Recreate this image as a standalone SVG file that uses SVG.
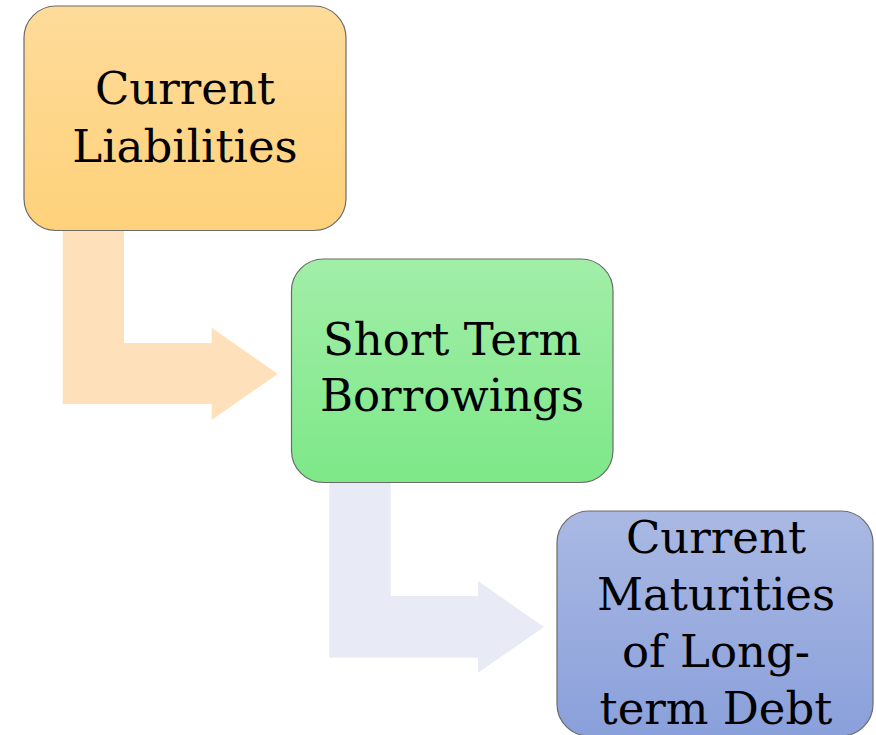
<svg xmlns="http://www.w3.org/2000/svg" width="876" height="735" viewBox="0 0 876 735">
<defs>
<linearGradient id="gOrange" x1="0" y1="0" x2="0" y2="1"><stop offset="0" stop-color="#fedb9a"/><stop offset="1" stop-color="#fed27a"/></linearGradient>
<linearGradient id="gGreen" x1="0" y1="0" x2="0" y2="1"><stop offset="0" stop-color="#a2eea8"/><stop offset="1" stop-color="#7de888"/></linearGradient>
<linearGradient id="gBlue" x1="0" y1="0" x2="0" y2="1"><stop offset="0" stop-color="#aab9e3"/><stop offset="1" stop-color="#8aa0db"/></linearGradient>
</defs>
<style>
.box{stroke:#6b6b6b;stroke-width:1.2}
.lbl{font-family:"DejaVu Serif","Liberation Serif",serif;font-size:45px;fill:#000;text-anchor:middle}
</style>
<g id="connectors">
<path d="M62.7,230 H124 V343 H211.7 V327.7 L277.7,374 L211.7,420 V404 H62.7 Z" fill="#fee1bb"/>
<path d="M329.3,483 H390.7 V596 H478 V581 L544,627 L478,672.7 V657.7 H329.3 Z" fill="#e8ebf5"/>
</g>
<g id="node1">
<rect class="box" x="24" y="6" width="322" height="224.5" rx="32" fill="url(#gOrange)"/>
<text class="lbl" x="185" y="104">Current</text>
<text class="lbl" x="185" y="162">Liabilities</text>
</g>
<g id="node2">
<rect class="box" x="291.5" y="259" width="321.5" height="223.5" rx="32" fill="url(#gGreen)"/>
<text class="lbl" x="452" y="355">Short Term</text>
<text class="lbl" x="452" y="411">Borrowings</text>
</g>
<g id="node3">
<rect class="box" x="557" y="511" width="316" height="225" rx="32" fill="url(#gBlue)"/>
<text class="lbl" x="716" y="553">Current</text>
<text class="lbl" x="716" y="610">Maturities</text>
<text class="lbl" x="716" y="667">of Long-</text>
<text class="lbl" x="716" y="724">term Debt</text>
</g>
</svg>
